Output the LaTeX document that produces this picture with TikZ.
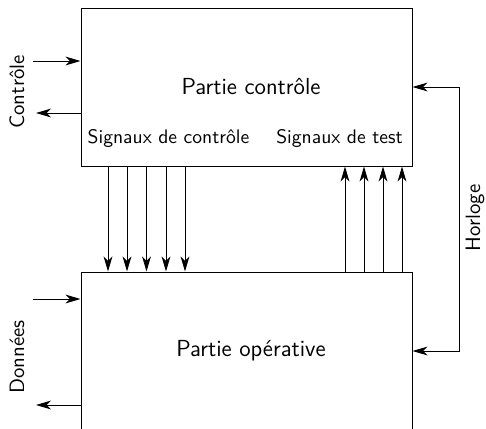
\documentclass[tikz,border=0pt]{standalone}
\usepackage{tikz}
\usetikzlibrary{arrows.meta}

\tikzset{
  bloc/.style={draw, line width=0.5pt, minimum width=165.5pt, minimum height=79pt, inner sep=0pt},
  fil/.style={line width=0.5pt, -{Stealth[length=7.5pt, width=4.4pt, inset=2.2pt]}},
  titre/.style={font=\sffamily\fontsize{11.6}{13}\selectfont},
  signal/.style={font=\sffamily\fontsize{9.8}{12}\selectfont},
  bord/.style={font=\sffamily\fontsize{10.4}{12}\selectfont, rotate=90}
}

\begin{document}
\begin{tikzpicture}[x=0.5pt, y=-0.5pt]
    \useasboundingbox (0,0) rectangle (486,428);
    \clip (0,0) rectangle (486,428);

    % les deux parties
    \node[bloc] (ctrl) at (246.5,87) {};
    \node[bloc] (oper) at (246.5,351) {};
    \node[titre] at (251,87) {Partie contr\^ole};
    \node[titre] at (251,351) {Partie op\'erative};
    \node[signal] at (168.5,138) {Signaux de contr\^ole};
    \node[signal] at (339.5,138) {Signaux de test};

    % signaux de controle et de test
    \foreach \x in {108,127,146.5,166,185}
      \draw[fil] (\x,0 |- ctrl.south) -- (\x,0 |- oper.north);
    \foreach \x in {345,364,383,402}
      \draw[fil] (\x,0 |- oper.north) -- (\x,0 |- ctrl.south);

    % entrees / sorties
    \coordinate (cin) at (33,61);
    \coordinate (cout) at (36,113);
    \coordinate (din) at (33,299);
    \coordinate (dout) at (36,405);
    \draw[fil] (cin) -- (cin -| ctrl.west);
    \draw[fil] (cout -| ctrl.west) -- (cout);
    \draw[fil] (din) -- (din -| oper.west);
    \draw[fil] (dout -| oper.west) -- (dout);
    \node[bord] at (17,92) {Contr\^ole};
    \node[bord] at (17,357) {Donn\'ees};

    % horloge
    \draw[fil] (ctrl.east) ++(47,0) coordinate (h) |- (oper.east);
    \draw[fil] (h) -- (ctrl.east);
    \node[bord] at (475,218) {Horloge};
\end{tikzpicture}
\end{document}
